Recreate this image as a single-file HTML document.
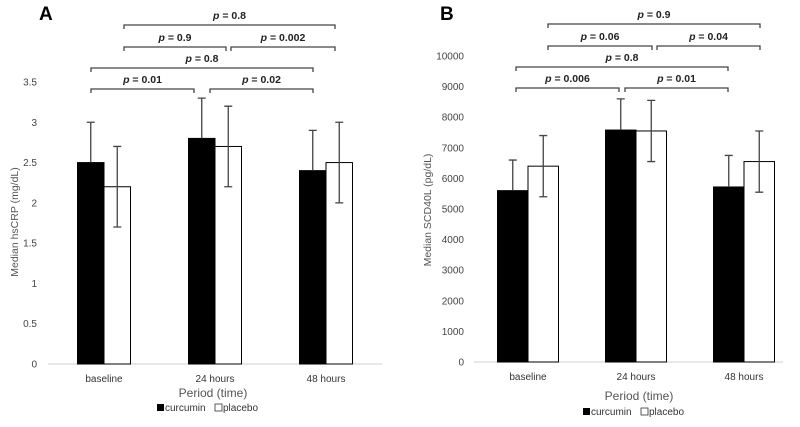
<!DOCTYPE html>
<html><head><meta charset="utf-8"><style>
html,body{margin:0;padding:0;background:#fff;}
svg{display:block;font-family:"Liberation Sans",Arial,sans-serif;}
</style></head><body>
<svg id="fig" width="800" height="427" viewBox="0 0 800 427"></svg>
<script>
const categories = ["baseline","24 hours","48 hours"];
const aCurcumin = [2.5, 2.8, 2.4];
const aCurcuminErr = [0.5, 0.5, 0.5];
const aPlacebo = [2.2, 2.7, 2.5];
const aPlaceboErr = [0.5, 0.5, 0.5];
const aTicks = ["0","0.5","1","1.5","2","2.5","3","3.5"];
const aTickValues = [0,0.5,1,1.5,2,2.5,3,3.5];
const aPvals = ["0.01","0.02","0.8","0.9","0.002","0.8"];
const bCurcumin = [5600, 7580, 5720];
const bCurcuminErr = [1000, 1020, 1030];
const bPlacebo = [6400, 7550, 6550];
const bPlaceboErr = [1000, 1000, 1000];
const bTicks = ["0","1000","2000","3000","4000","5000","6000","7000","8000","9000","10000"];
const bTickValues = [0,1000,2000,3000,4000,5000,6000,7000,8000,9000,10000];
const bPvals = ["0.006","0.01","0.8","0.06","0.04","0.9"];

const NS="http://www.w3.org/2000/svg";
const svg=document.getElementById('fig');
function mk(tag,attrs,parent){const e=document.createElementNS(NS,tag);for(const k in attrs)e.setAttribute(k,attrs[k]);(parent||svg).appendChild(e);return e;}

function chart(cfg){
  const g=mk('g',{});
  
  
  const y=v=>cfg.y0-(v/cfg.ymax)*(cfg.y0-cfg.ytop);
  const cx=i=>cfg.c0+i*cfg.cw;
  const L=mk('text',{x:cfg.letterX,y:20,'font-size':19,'font-weight':'bold',fill:'#000'},g);L.textContent=cfg.letter;
  
  
  cfg.tickValues.forEach((v,i)=>{
    const t=mk('text',{x:cfg.tickX,y:y(v)+3.5,'font-size':10,fill:'#444','text-anchor':'end'},g);
    t.textContent=cfg.ticks[i];
    
    
  });
  const ax=mk('line',{x1:cfg.axX1,x2:cfg.axX2,y1:cfg.y0,y2:cfg.y0,stroke:'#d0d0d0','stroke-width':1},g);
  
  
  categories.forEach((c,i)=>{
    const c1=cfg.cur[i],p1=cfg.pla[i];
    const b1=mk('rect',{x:cx(i)-cfg.bw,y:y(c1),width:cfg.bw,height:cfg.y0-y(c1),fill:'#000',stroke:'#000','stroke-width':1},g);
    
    
    const b2=mk('rect',{x:cx(i),y:y(p1),width:cfg.bw,height:cfg.y0-y(p1),fill:'#fff',stroke:'#000','stroke-width':1},g);
    
    
    const ex1=cx(i)-cfg.bw/2, ex2=cx(i)+cfg.bw/2;
    const e1=mk('path',{d:`M${ex1},${y(c1)} V${y(c1+cfg.curErr[i])} M${ex1-4},${y(c1+cfg.curErr[i])} H${ex1+4}`,stroke:'#444','stroke-width':1.3,fill:'none'},g);
    
    
    const e2=mk('path',{d:`M${ex2},${y(p1-cfg.plaErr[i])} V${y(p1+cfg.plaErr[i])} M${ex2-4},${y(p1+cfg.plaErr[i])} H${ex2+4} M${ex2-4},${y(p1-cfg.plaErr[i])} H${ex2+4}`,stroke:'#444','stroke-width':1.3,fill:'none'},g);
    
    
    const t=mk('text',{x:cx(i),y:cfg.catY,'font-size':10,fill:'#333','text-anchor':'middle'},g);
    t.textContent=c;
    
    
  });
  const xt=mk('text',{x:cfg.xTitleX,y:cfg.xTitleY,'font-size':12,fill:'#555','text-anchor':'middle'},g);
  xt.textContent='Period (time)';
  
  
  const yt=mk('text',{x:0,y:0,'font-size':10.5,fill:'#555','text-anchor':'middle',transform:`translate(${cfg.yTitleX},${cfg.yTitleY}) rotate(-90)`},g);
  yt.textContent=cfg.yTitle;
  
  
  const lg=mk('g',{},g);
  
  
  mk('rect',{x:cfg.legX,y:cfg.legY-7,width:7,height:7,fill:'#000'},lg);
  const l1=mk('text',{x:cfg.legX+8,y:cfg.legY,'font-size':10,fill:'#333'},lg);l1.textContent='curcumin';
  
  
  mk('rect',{x:cfg.legX+58,y:cfg.legY-7,width:7,height:7,fill:'#fff',stroke:'#333','stroke-width':0.8},lg);
  const l2=mk('text',{x:cfg.legX+66,y:cfg.legY,'font-size':10,fill:'#333'},lg);l2.textContent='placebo';
  
  
  cfg.brackets.forEach((b,k)=>{
    const bg=mk('g',{},g);
    
    
    mk('path',{d:`M${b[0]},${b[2]+4} V${b[2]} H${b[1]} V${b[2]+4}`,stroke:'#444','stroke-width':1.3,fill:'none'},bg);
    const t=mk('text',{x:(b[0]+b[1])/2,y:b[2]-6,'font-size':10.5,'font-weight':'bold',fill:'#222','text-anchor':'middle'},bg);
    const ts=mk('tspan',{'font-style':'italic'},t);ts.textContent='p';
    const ts2=mk('tspan',{},t);ts2.textContent=' = '+cfg.pvals[k];
  });
}

chart({name:'chart-a',letter:'A',letterX:39,y0:364,ytop:82,ymax:3.5,c0:104,cw:111,bw:26.5,tickX:37,
  axX1:48,axX2:382,ticks:aTicks,tickValues:aTickValues,cur:aCurcumin,curErr:aCurcuminErr,pla:aPlacebo,plaErr:aPlaceboErr,
  catY:382,xTitleX:213,xTitleY:397,yTitle:'Median  hsCRP (mg/dL)',yTitleX:18,yTitleY:222,legX:157,legY:411,pvals:aPvals,
  brackets:[[91,194,89],[210,313,89],[91,313,68],[124,226,47],[231,335,47],[124,335,25]]});
chart({name:'chart-b',letter:'B',letterX:440,y0:362,ytop:56,ymax:10000,c0:528,cw:108,bw:30.5,tickX:464,
  axX1:474,axX2:783,ticks:bTicks,tickValues:bTickValues,cur:bCurcumin,curErr:bCurcuminErr,pla:bPlacebo,plaErr:bPlaceboErr,
  catY:380,xTitleX:639,xTitleY:400,yTitle:'Median  SCD40L (pg/dL)',yTitleX:431,yTitleY:210,legX:583,legY:415,pvals:bPvals,
  brackets:[[516,619,88],[625,728,88],[516,728,67],[548,652,46],[657,760,46],[548,760,24]]});
</script>
</body></html>
